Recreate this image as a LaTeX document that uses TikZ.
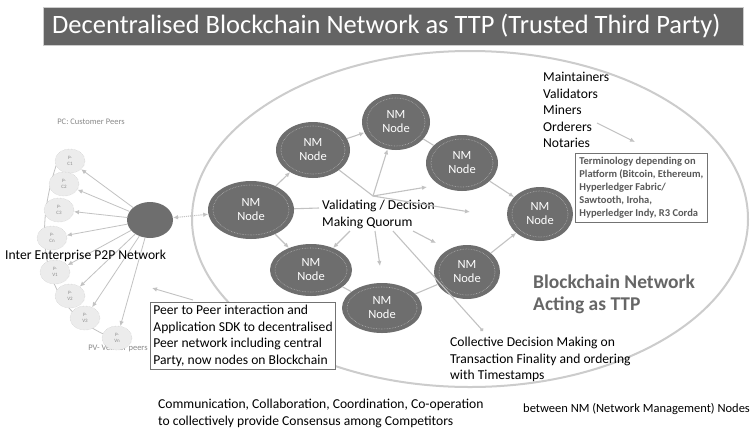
\documentclass[tikz,border=0pt]{standalone}
\usepackage{fontspec}
\setmainfont{Carlito}
\usetikzlibrary{shapes.geometric,arrows.meta,calc}

\definecolor{titlegrey}{HTML}{646464}
\definecolor{nodegrey}{HTML}{6E6E6E}
\definecolor{linegrey}{HTML}{C2C2C2}
\definecolor{peerfill}{HTML}{ECECEC}
\definecolor{labelgrey}{HTML}{8A8A8A}

\tikzset{
  nmnode/.style={ellipse, fill=nodegrey, text=white, inner sep=0pt, align=center,
    font=\fontsize{12.5}{14}\selectfont,
    path picture={\draw[white!45!nodegrey, densely dotted, line width=0.6pt]
      let \p1=($(path picture bounding box.north east)-(path picture bounding box.center)$)
      in (path picture bounding box.center) ellipse [x radius=\x1-5pt, y radius=\y1-4pt];}},
  peer/.style={ellipse, fill=peerfill, draw=linegrey, densely dotted, minimum width=30,
    minimum height=24, inner sep=0pt, align=center, text=labelgrey,
    font=\fontsize{5}{6}\selectfont},
  link/.style={draw=linegrey, line width=1.1pt, -{Latex[length=5pt,width=4.5pt]}},
  plainline/.style={draw=linegrey, line width=1.1pt},
  body/.style={font=\fontsize{13.6}{16.5}\selectfont, align=left, inner sep=0pt, anchor=north west},
  small/.style={font=\fontsize{8.5}{10}\selectfont, text=labelgrey, inner sep=0pt}
}

\begin{document}
\begin{tikzpicture}[x=1pt,y=-1pt]
\useasboundingbox[fill=white] (0,0) rectangle (752,432);

% title bar
\node[fill=titlegrey, draw=black!20, minimum width=700, minimum height=38] (titlebar) at (393,26) {};
\node[anchor=west, inner sep=0pt, text=white, font=\fontsize{26.5}{28}\selectfont] (title)
  at (52,26) {Decentralised Blockchain Network as TTP (Trusted Third Party)};

% blockchain network ring
\draw[draw=black!20, line width=2pt] (470,219) ellipse [x radius=278, y radius=168];

% peers on the left
\draw[plainline, line width=0.8pt] (58,160) .. controls (30,240) and (45,310) .. (108,336);
\node[small] (pclabel) at (91,122) {PC: Customer Peers};
\node[small] (pvlabel) at (118,348) {PV- Vendor peers};
\node[peer] (pc1) at (70,161) {P-\\C1};
\node[peer] (pc2) at (64,184) {P-\\C2};
\node[peer] (pc3) at (59,210) {P-\\C3};
\node[peer] (pcn) at (52,238) {P-\\Cn};
\node[peer] (pv1) at (55,272) {P-\\V1};
\node[peer] (pv2) at (70,296) {P-\\V2};
\node[peer] (pv3) at (85,318) {P-\\V3};
\node[peer] (pvn) at (117,338) {P-\\Vn};
\node[ellipse, fill=nodegrey, minimum width=46, minimum height=36] (hub) at (150,220) {};

\draw[link, line width=0.8pt] (hub) -- (pc1);
\draw[link, line width=0.8pt] (hub) -- (pc2);
\draw[link, line width=0.8pt] (hub) -- (pc3);
\draw[link, line width=0.8pt] (hub) -- (pcn);
\draw[link, line width=0.8pt] (hub) -- (pv1);
\draw[link, line width=0.8pt] (hub) -- (pv2);
\draw[link, line width=0.8pt] (hub) -- (pv3);
\draw[link, line width=0.8pt] (hub) -- (pvn);

\node[body] (p2p) at (5,250) {Inter Enterprise P2P Network};

% NM nodes
\node[nmnode, minimum width=86, minimum height=58] (n1) at (251,210) {NM\\Node};
\node[nmnode, minimum width=74, minimum height=56] (n2) at (313,150) {NM\\Node};
\node[nmnode, minimum width=68, minimum height=56] (n3) at (396,122) {NM\\Node};
\node[nmnode, minimum width=72, minimum height=56] (n4) at (462,163) {NM\\Node};
\node[nmnode, minimum width=66, minimum height=54] (n5) at (540,214) {NM\\Node};
\node[nmnode, minimum width=82, minimum height=52] (n6) at (311,270) {NM\\Node};
\node[nmnode, minimum width=80, minimum height=50] (n7) at (382,308) {NM\\Node};
\node[nmnode, minimum width=66, minimum height=54] (n8) at (467,272) {NM\\Node};

\draw[link, densely dotted, {Latex[length=5pt,width=4.5pt]}-{Latex[length=5pt,width=4.5pt]}] (hub) -- (n1);
\draw[link] (n1) -- (n2);
\draw[link] (n2) -- (n3);
\draw[plainline] (n3) -- (n4);
\draw[link] (n4) -- (n5);
\draw[link] (n1) -- (n6);
\draw[plainline] (n6) -- (n7);
\draw[plainline] (n7) -- (n8);
\draw[link] (n8) -- (n5);

% quorum
\node[body] (quorum) at (322,200) {Validating / Decision\\Making Quorum};
\coordinate (q) at (373,196);
\coordinate (qw) at (319,208);
\coordinate (qe1) at (470,212);
\coordinate (qe2) at (427,187);
\coordinate (qs1) at (350,231);
\coordinate (qs2) at (375,231);
\coordinate (qe3) at (380,266);
\coordinate (qs3) at (393,231);
\coordinate (qe5) at (483,331);
\coordinate (qs4) at (413,231);
\coordinate (qe4) at (436,243);
\draw[plainline] (n1) -- (qw);
\draw[link] (n2) -- (q) -- (qe1);
\draw[link] (q) -- (n3);
\draw[link] (q) -- (qe2);
\draw[link] (qs1) -- (n6);
\draw[link] (qs2) -- (qe3);
\draw[link] (qs4) -- (qe4);
\draw[plainline, -{Circle[length=3.5pt]}] (qs3) -- (qe5);

% roles and terminology
\node[body] (roles) at (543,72) {Maintainers\\Validators\\Miners\\Orderers\\Notaries};
\coordinate (rolesfrom) at (597,123);
\coordinate (rolesto) at (635,142);
\draw[link, line width=0.9pt] (rolesfrom) -- (rolesto);
\node[draw=black!55, line width=0.8pt, inner sep=4pt, anchor=north west, align=left,
  font=\fontsize{10.5}{13}\bfseries\selectfont, text=black!65] (term) at (575,153)
  {Terminology depending on\\Platform (Bitcoin, Ethereum,\\Hyperledger Fabric/\\Sawtooth, Iroha,\\Hyperledger Indy, R3 Corda};

\node[body, font=\fontsize{19.5}{22}\bfseries\selectfont, text=black!60] (ttp) at (533,275) {Blockchain Network\\Acting as TTP};

% peer box
\node[body, draw=black!55, fill=white, line width=0.8pt, inner sep=3pt] (sdk) at (150,302)
  {Peer to Peer interaction and\\Application SDK to decentralised\\Peer network including central\\Party, now nodes on Blockchain};
\coordinate (sdkfrom) at (193,300);
\coordinate (sdkto) at (152,288);
\draw[link, line width=0.9pt] (sdkfrom) -- (sdkto);

% bottom texts
\node[body] (collective) at (450,337) {Collective Decision Making on\\Transaction Finality and ordering\\with Timestamps};
\node[body] (consensus) at (158,399) {Communication, Collaboration, Coordination, Co-operation\\to collectively provide Consensus among Competitors};
\node[body, font=\fontsize{12.5}{14}\selectfont] (between) at (523,403) {between NM (Network Management) Nodes};
\end{tikzpicture}
\end{document}
